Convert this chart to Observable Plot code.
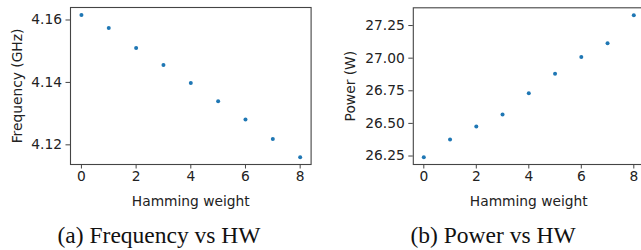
<!DOCTYPE html>
<html>
<head>
<meta charset="utf-8">
<script src="https://cdn.jsdelivr.net/npm/d3@7"></script>
<script src="https://cdn.jsdelivr.net/npm/@observablehq/plot@0.6"></script>
<style>
  html, body { margin: 0; padding: 0; background: #fff; overflow: hidden; }
  #wrap { position: relative; width: 641px; height: 250px; overflow: hidden; }
  .panel { position: absolute; top: 0; }
  .cap { position: absolute; top: 224px; font-family: "Liberation Serif", "Times New Roman", serif;
         font-size: 23.5px; line-height: 23.5px; color: #111; white-space: nowrap; transform: translateX(-50%); }
</style>
</head>
<body>
<div id="wrap"></div>
<script>
// ---- data ----
const hammingWeight = [0, 1, 2, 3, 4, 5, 6, 7, 8];
const frequencyGHz = [4.1616, 4.1574, 4.1510, 4.1456, 4.1398, 4.1340, 4.1281, 4.1219, 4.1160];
const powerW = [26.240, 26.376, 26.477, 26.569, 26.732, 26.881, 27.008, 27.115, 27.329];
const xTicks = [0, 2, 4, 6, 8];
const freqTicks = [4.12, 4.14, 4.16];
const powerTicks = [26.25, 26.50, 26.75, 27.00, 27.25];
const xLabel = ["Hamming weight"];
const freqLabel = ["Frequency (GHz)"];
const powerLabel = ["Power (W)"];
const captions = ["(a) Frequency vs HW", "(b) Power vs HW"];

const freqData = hammingWeight.map((h, i) => ({hw: h, v: frequencyGHz[i]}));
const powerData = hammingWeight.map((h, i) => ({hw: h, v: powerW[i]}));

const FS = 13.8;
const lineColor = "#444";
const textColor = "#222";

function panel({data, width, marginLeft, marginRight, marginTop, yDomain, yTicks, yLabel, yLabelDx}) {
  const height = 215;
  const bottom = 164;
  return Plot.plot({
    width, height,
    marginLeft, marginRight, marginTop,
    marginBottom: height - bottom,
    style: {fontFamily: "DejaVu Sans, sans-serif", fontSize: FS + "px", color: textColor, background: "transparent", overflow: "hidden"},
    x: {domain: [-0.4, 8.4]},
    y: {domain: yDomain},
    marks: [
      Plot.frame({stroke: lineColor, strokeWidth: 1.1}),
      Plot.axisX({ticks: xTicks, tickSize: 4.5, tickPadding: 2.5, label: null, stroke: lineColor, fill: textColor, fontSize: FS}),
      Plot.axisY({ticks: yTicks, tickSize: 4.5, tickPadding: 4, tickFormat: ".2f", label: null, stroke: lineColor, fill: textColor, fontSize: FS}),
      Plot.dot(data, {x: "hw", y: "v", r: 2, fill: "#1f77b4", stroke: "none"}),
      Plot.text(xLabel, {text: d => d, frameAnchor: "bottom", dy: 37, lineAnchor: "middle", fontSize: FS, fill: textColor}),
      Plot.text(yLabel, {text: d => d, frameAnchor: "left", dx: yLabelDx, rotate: -90, lineAnchor: "middle", textAnchor: "middle", fontSize: FS, fill: textColor})
    ]
  });
}

const wrap = document.getElementById("wrap");

const left = panel({
  data: freqData, width: 320, marginLeft: 70, marginRight: 9.4, marginTop: 7,
  yDomain: [4.1137, 4.1640], yTicks: freqTicks, yLabel: freqLabel, yLabelDx: -53
});
left.classList.add("panel");
left.style.left = "0px";
wrap.appendChild(left);

const right = panel({
  data: powerData, width: 326, marginLeft: 92.8, marginRight: 2.2, marginTop: 7.3,
  yDomain: [26.185, 27.386], yTicks: powerTicks, yLabel: powerLabel, yLabelDx: -63
});
right.classList.add("panel");
right.style.left = "320px";
wrap.appendChild(right);

const capX = [159, 493];
captions.forEach((c, i) => {
  const d = document.createElement("div");
  d.className = "cap";
  d.textContent = c;
  d.style.left = capX[i] + "px";
  wrap.appendChild(d);
});
</script>
</body>
</html>
